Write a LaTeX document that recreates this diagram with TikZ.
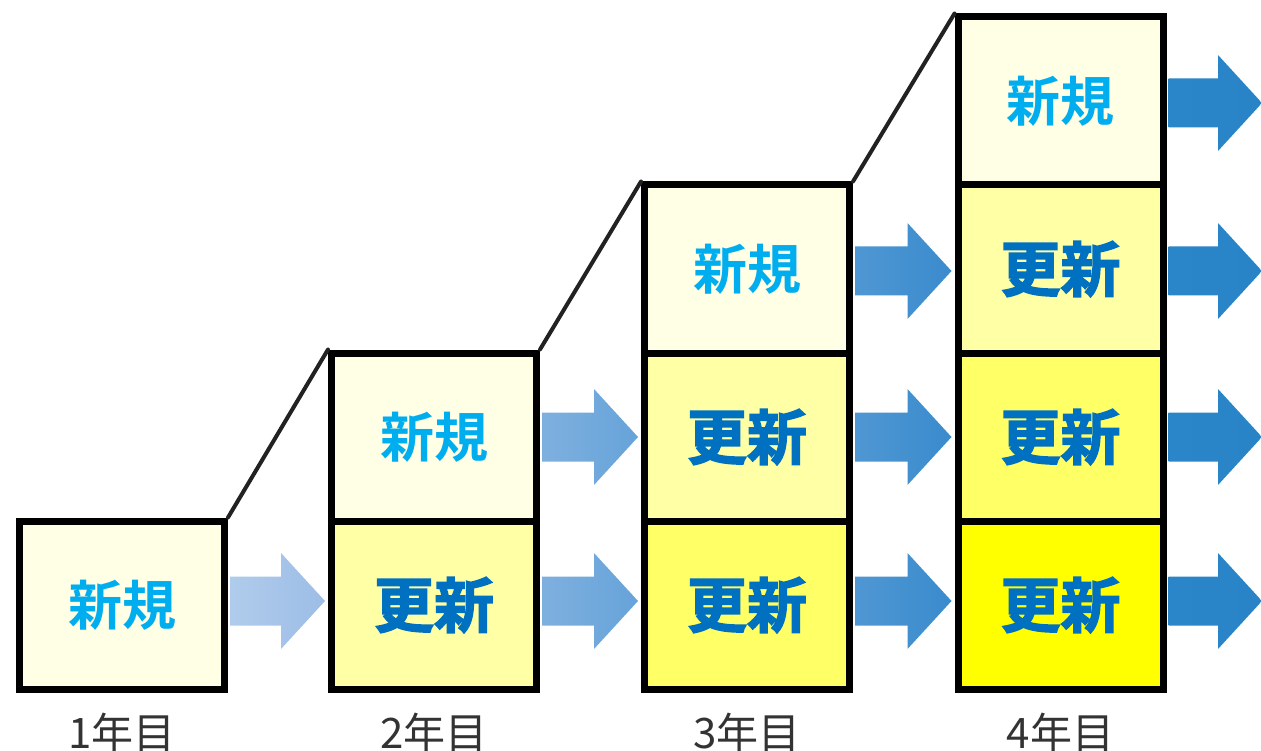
\documentclass[tikz,border=0pt]{standalone}
\usepackage{fontspec}
\usetikzlibrary{calc}
\newfontfamily\jpreg{Noto Sans CJK JP}
\newfontfamily\jpbold{Noto Sans CJK JP}[UprightFont=* Bold]
\newfontfamily\jpheavy{Noto Sans CJK JP}[UprightFont=* Bold, FakeBold=2.5]
\definecolor{newfill}{HTML}{FFFFE6}
\definecolor{upA}{HTML}{FFFFA6}
\definecolor{upB}{HTML}{FFFF66}
\definecolor{upC}{HTML}{FFFF00}
\definecolor{newtext}{HTML}{00AEEF}
\definecolor{uptext}{HTML}{0070C0}
\definecolor{labeltext}{HTML}{333333}
\definecolor{diag}{HTML}{222222}
\definecolor{aoneL}{HTML}{B0CCEC}
\definecolor{aoneR}{HTML}{9DBDE6}
\definecolor{atwoL}{HTML}{7EB0DF}
\definecolor{atwoR}{HTML}{66A3D9}
\definecolor{athreeL}{HTML}{4F97D3}
\definecolor{athreeR}{HTML}{3A8BCD}
\definecolor{afourL}{HTML}{2A86C8}
\definecolor{afourR}{HTML}{2884C7}
\tikzset{
  box/.style={draw=black, line width=7pt, minimum width=205pt, minimum height=168pt, inner sep=0pt, outer sep=3.5pt},
  newbox/.style={box, fill=newfill, text=newtext, font=\jpbold\fontsize{54}{54}\selectfont},
  upbox/.style={box, text=uptext, font=\jpheavy\fontsize{60}{60}\selectfont},
  yearlabel/.style={text=labeltext, font=\jpreg\fontsize{42}{42}\selectfont, inner sep=0pt},
  diagline/.style={draw=diag, line width=4pt, line cap=round}
}
\newcommand\blockarr[4]{%
  \path[left color=#3, right color=#4]
    ($(#1)+(2,-24.5)$) -- ($(#2)+(-47,-24.5)$) -- ($(#2)+(-47,-48)$) --
    ($(#2)+(-3,0)$) -- ($(#2)+(-47,48)$) -- ($(#2)+(-47,24.5)$) --
    ($(#1)+(2,24.5)$) -- cycle;}
\begin{document}
\begin{tikzpicture}[x=1pt, y=-1pt]
\useasboundingbox (0,0) rectangle (1261,751);
% column 1
\node[newbox] (c1r1) at (122,605) {新規};
% column 2
\node[upbox, fill=upA] (c2r1) at (434,605) {更新};
\node[newbox] (c2r2) at (434,437) {新規};
% column 3
\node[upbox, fill=upB] (c3r1) at (747,605) {更新};
\node[upbox, fill=upA] (c3r2) at (747,437) {更新};
\node[newbox] (c3r3) at (747,269) {新規};
% column 4
\node[upbox, fill=upC] (c4r1) at (1060.5,605) {更新};
\node[upbox, fill=upB] (c4r2) at (1060.5,437) {更新};
\node[upbox, fill=upA] (c4r3) at (1060.5,269) {更新};
\node[newbox] (c4r4) at (1060.5,101) {新規};
% diagonals
\draw[diagline] (c1r1.north east) -- (c2r2.north west);
\draw[diagline] (c2r2.north east) -- (c3r3.north west);
\draw[diagline] (c3r3.north east) -- (c4r4.north west);
% out coordinates
\coordinate (o1) at (1265,605);
\coordinate (o2) at (1265,437);
\coordinate (o3) at (1265,269);
\coordinate (o4) at (1265,101);
% arrows
\blockarr{$(c1r1.east)+(0,-4)$}{$(c2r1.west)+(0,-4)$}{aoneL}{aoneR}
\blockarr{$(c2r1.east)+(0,-4)$}{$(c3r1.west)+(0,-4)$}{atwoL}{atwoR}
\blockarr{$(c2r2.east)+(0,0)$}{$(c3r2.west)+(0,0)$}{atwoL}{atwoR}
\blockarr{$(c3r1.east)+(0,-4)$}{$(c4r1.west)+(0,-4)$}{athreeL}{athreeR}
\blockarr{$(c3r2.east)+(0,0)$}{$(c4r2.west)+(0,0)$}{athreeL}{athreeR}
\blockarr{$(c3r3.east)+(0,2)$}{$(c4r3.west)+(0,2)$}{athreeL}{athreeR}
\blockarr{$(c4r1.east)+(0,-4)$}{$(o1)+(0,-4)$}{afourL}{afourR}
\blockarr{$(c4r2.east)+(0,0)$}{$(o2)+(0,0)$}{afourL}{afourR}
\blockarr{$(c4r3.east)+(0,2)$}{$(o3)+(0,2)$}{afourL}{afourR}
\blockarr{$(c4r4.east)+(0,2)$}{$(o4)+(0,2)$}{afourL}{afourR}
% year labels
\node[yearlabel] (y1) at (122,732) {1年目};
\node[yearlabel] (y2) at (434,732) {2年目};
\node[yearlabel] (y3) at (747,732) {3年目};
\node[yearlabel] (y4) at (1060.5,732) {4年目};
\end{tikzpicture}
\end{document}
